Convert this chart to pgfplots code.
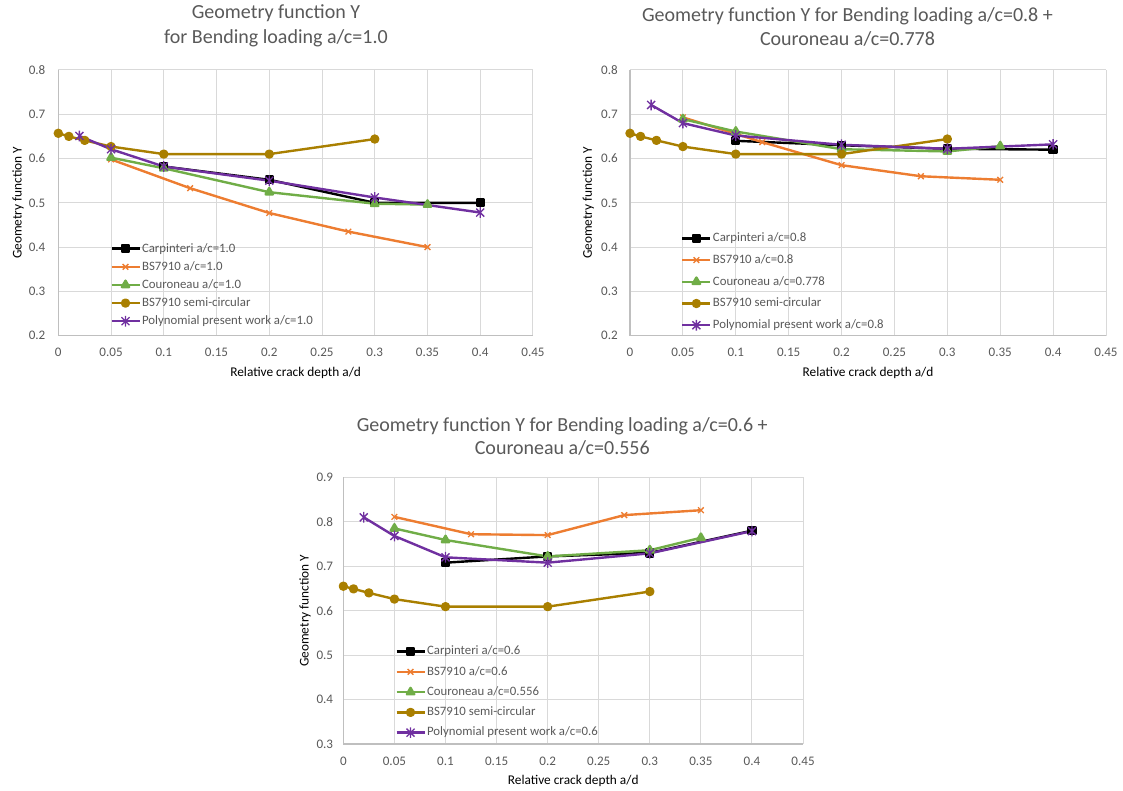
\documentclass[border=0pt]{standalone}
\usepackage{fontspec}
\setmainfont{Carlito}
\usepackage{pgfplots}
\pgfplotsset{compat=1.18}
\definecolor{txt}{HTML}{595959}
\definecolor{gridc}{HTML}{D9D9D9}
\definecolor{axc}{HTML}{BFBFBF}
\definecolor{corange}{HTML}{ED7D31}
\definecolor{cgreen}{HTML}{70AD47}
\definecolor{cgold}{HTML}{A97F00}
\definecolor{cpurple}{HTML}{7030A0}
\pgfdeclareplotmark{xstar}{%
  \pgfpathmoveto{\pgfqpoint{-.75\pgfplotmarksize}{-.75\pgfplotmarksize}}%
  \pgfpathlineto{\pgfqpoint{.75\pgfplotmarksize}{.75\pgfplotmarksize}}%
  \pgfpathmoveto{\pgfqpoint{-.75\pgfplotmarksize}{.75\pgfplotmarksize}}%
  \pgfpathlineto{\pgfqpoint{.75\pgfplotmarksize}{-.75\pgfplotmarksize}}%
  \pgfpathmoveto{\pgfqpoint{0pt}{-\pgfplotmarksize}}%
  \pgfpathlineto{\pgfqpoint{0pt}{\pgfplotmarksize}}%
  \pgfusepathqstroke}
\pgfplotsset{
  excel/.style={
    scale only axis,
    anchor=south west,
    axis x line*=bottom, axis y line*=left,
    axis line style={-, draw=axc, line width=1pt},
    grid=major, major grid style={draw=gridc, line width=0.75pt},
    major tick length=0pt, tick style={draw=none},
    ticklabel style={font=\fontsize{9.8}{11}\selectfont, text=txt},
    xticklabel style={anchor=center, inner sep=0pt, yshift=-12.75pt},
    yticklabel style={anchor=east, inner sep=0pt},
    xmin=0, xmax=0.45,
    xtick={0,0.05,0.1,0.15,0.2,0.25,0.3,0.35,0.4,0.45},
    xticklabels={0,0.05,0.1,0.15,0.2,0.25,0.3,0.35,0.4,0.45},
    label style={font=\fontsize{11.3}{13}\selectfont, text=txt},
    xlabel={Relative crack depth a/d}, ylabel={Geometry function Y},
    every axis x label/.style={at={(axis description cs:0.5,-0.14)}, anchor=center},
    legend style={draw=none, fill=none, inner sep=0pt, anchor=north west,
      font=\fontsize{9.6}{11}\selectfont, text=txt,
      nodes={inner sep=1pt, text height=7pt, text depth=2pt}},
    legend cell align=left,
    legend image code/.code={\draw[mark repeat=2, mark phase=2, #1] plot coordinates {(0pt,0pt)(10.5pt,0pt)(21pt,0pt)};},
    clip=false,
    every axis plot/.append style={line width=1.8pt, line join=round},
  },
  carp/.style={color=black, mark=square*, mark size=2.6pt},
  bs/.style={color=corange, mark=x, mark size=3pt, mark options={line width=1pt}},
  cour/.style={color=cgreen, mark=triangle*, mark size=3.2pt},
  semi/.style={color=cgold, mark=*, mark size=2.6pt},
  poly/.style={color=cpurple, mark=xstar, mark size=4pt, mark options={line width=1pt}},
}
\begin{document}
\begin{tikzpicture}
\useasboundingbox (0,0) rectangle (842.25pt,593.25pt);
% ---------- Chart 1 ----------
\begin{axis}[excel, at={(43.73pt,341.48pt)}, width=356pt, height=199.3pt,
  ymin=0.2, ymax=0.8, ytick={0.2,0.3,0.4,0.5,0.6,0.7,0.8},
  yticklabels={0.2,0.3,0.4,0.5,0.6,0.7,0.8},
  yticklabel style={xshift=-9.5pt},
  every axis y label/.style={at={(axis description cs:-0.0849,0.5)}, rotate=90, anchor=center},
  legend style={at={(axis description cs:0.109,0.356)}, row sep=2.6pt}]
\addplot[carp] coordinates {(0.1,0.582) (0.2,0.552) (0.3,0.500) (0.4,0.500)};
\addlegendentry{Carpinteri a/c=1.0}
\addplot[bs] coordinates {(0.05,0.598) (0.125,0.533) (0.2,0.477) (0.275,0.435) (0.35,0.400)};
\addlegendentry{BS7910 a/c=1.0}
\addplot[cour] coordinates {(0.05,0.602) (0.1,0.578) (0.2,0.524) (0.3,0.498) (0.35,0.496)};
\addlegendentry{Couroneau a/c=1.0}
\addplot[semi] coordinates {(0,0.657) (0.01,0.650) (0.025,0.641) (0.05,0.627) (0.1,0.610) (0.2,0.610) (0.3,0.644)};
\addlegendentry{BS7910 semi-circular}
\addplot[poly] coordinates {(0.02,0.651) (0.05,0.621) (0.1,0.582) (0.2,0.550) (0.3,0.512) (0.4,0.478)};
\addlegendentry{Polynomial present work a/c=1.0}
\end{axis}
% ---------- Chart 2 ----------
\begin{axis}[excel, at={(472.5pt,341.48pt)}, width=357pt, height=199.3pt,
  ymin=0.2, ymax=0.8, ytick={0.2,0.3,0.4,0.5,0.6,0.7,0.8},
  yticklabels={0.2,0.3,0.4,0.5,0.6,0.7,0.8},
  yticklabel style={xshift=-9pt},
  every axis y label/.style={at={(axis description cs:-0.0876,0.5)}, rotate=90, anchor=center},
  legend style={at={(axis description cs:0.107,0.395)}, row sep=5.3pt}]
\addplot[carp] coordinates {(0.1,0.640) (0.2,0.630) (0.3,0.622) (0.4,0.620)};
\addlegendentry{Carpinteri a/c=0.8}
\addplot[bs] coordinates {(0.05,0.693) (0.125,0.637) (0.2,0.585) (0.275,0.560) (0.35,0.552)};
\addlegendentry{BS7910 a/c=0.8}
\addplot[cour] coordinates {(0.05,0.689) (0.1,0.661) (0.2,0.621) (0.3,0.616) (0.35,0.628)};
\addlegendentry{Couroneau a/c=0.778}
\addplot[semi] coordinates {(0,0.657) (0.01,0.650) (0.025,0.641) (0.05,0.627) (0.1,0.610) (0.2,0.610) (0.3,0.644)};
\addlegendentry{BS7910 semi-circular}
\addplot[poly] coordinates {(0.02,0.721) (0.05,0.680) (0.1,0.652) (0.2,0.631) (0.3,0.622) (0.4,0.632)};
\addlegendentry{Polynomial present work a/c=0.8}
\end{axis}
% ---------- Chart 3 ----------
\begin{axis}[excel, at={(257.5pt,35.25pt)}, width=344.8pt, height=200pt,
  ymin=0.3, ymax=0.9, ytick={0.3,0.4,0.5,0.6,0.7,0.8,0.9},
  yticklabels={0.3,0.4,0.5,0.6,0.7,0.8,0.9},
  yticklabel style={xshift=-7.5pt},
  every axis y label/.style={at={(axis description cs:-0.0833,0.5)}, rotate=90, anchor=center},
  legend style={at={(axis description cs:0.1125,0.375)}, row sep=4.2pt}]
\addplot[carp] coordinates {(0.1,0.708) (0.2,0.722) (0.3,0.730) (0.4,0.780)};
\addlegendentry{Carpinteri a/c=0.6}
\addplot[bs] coordinates {(0.05,0.811) (0.125,0.772) (0.2,0.770) (0.275,0.815) (0.35,0.826)};
\addlegendentry{BS7910 a/c=0.6}
\addplot[cour] coordinates {(0.05,0.785) (0.1,0.759) (0.2,0.722) (0.3,0.736) (0.35,0.764)};
\addlegendentry{Couroneau a/c=0.556}
\addplot[semi] coordinates {(0,0.655) (0.01,0.649) (0.025,0.640) (0.05,0.626) (0.1,0.609) (0.2,0.609) (0.3,0.643)};
\addlegendentry{BS7910 semi-circular}
\addplot[poly] coordinates {(0.02,0.810) (0.05,0.768) (0.1,0.720) (0.2,0.708) (0.3,0.729) (0.4,0.779)};
\addlegendentry{Polynomial present work a/c=0.6}
\end{axis}
% ---------- Titles ----------
\begin{scope}[every node/.style={anchor=base, inner sep=0pt, text=txt, font=\fontsize{15}{18}\selectfont}]
\node at (207pt,579pt) {Geometry function Y};
\node at (207pt,560.25pt) {for Bending loading a/c=1.0};
\node at (635.6pt,577pt) {Geometry function Y for Bending loading a/c=0.8 +};
\node at (635.6pt,558.75pt) {Couroneau a/c=0.778};
\node at (421.7pt,269.5pt) {Geometry function Y for Bending loading a/c=0.6 +};
\node at (421.7pt,252pt) {Couroneau a/c=0.556};
\end{scope}
\end{tikzpicture}
\end{document}
